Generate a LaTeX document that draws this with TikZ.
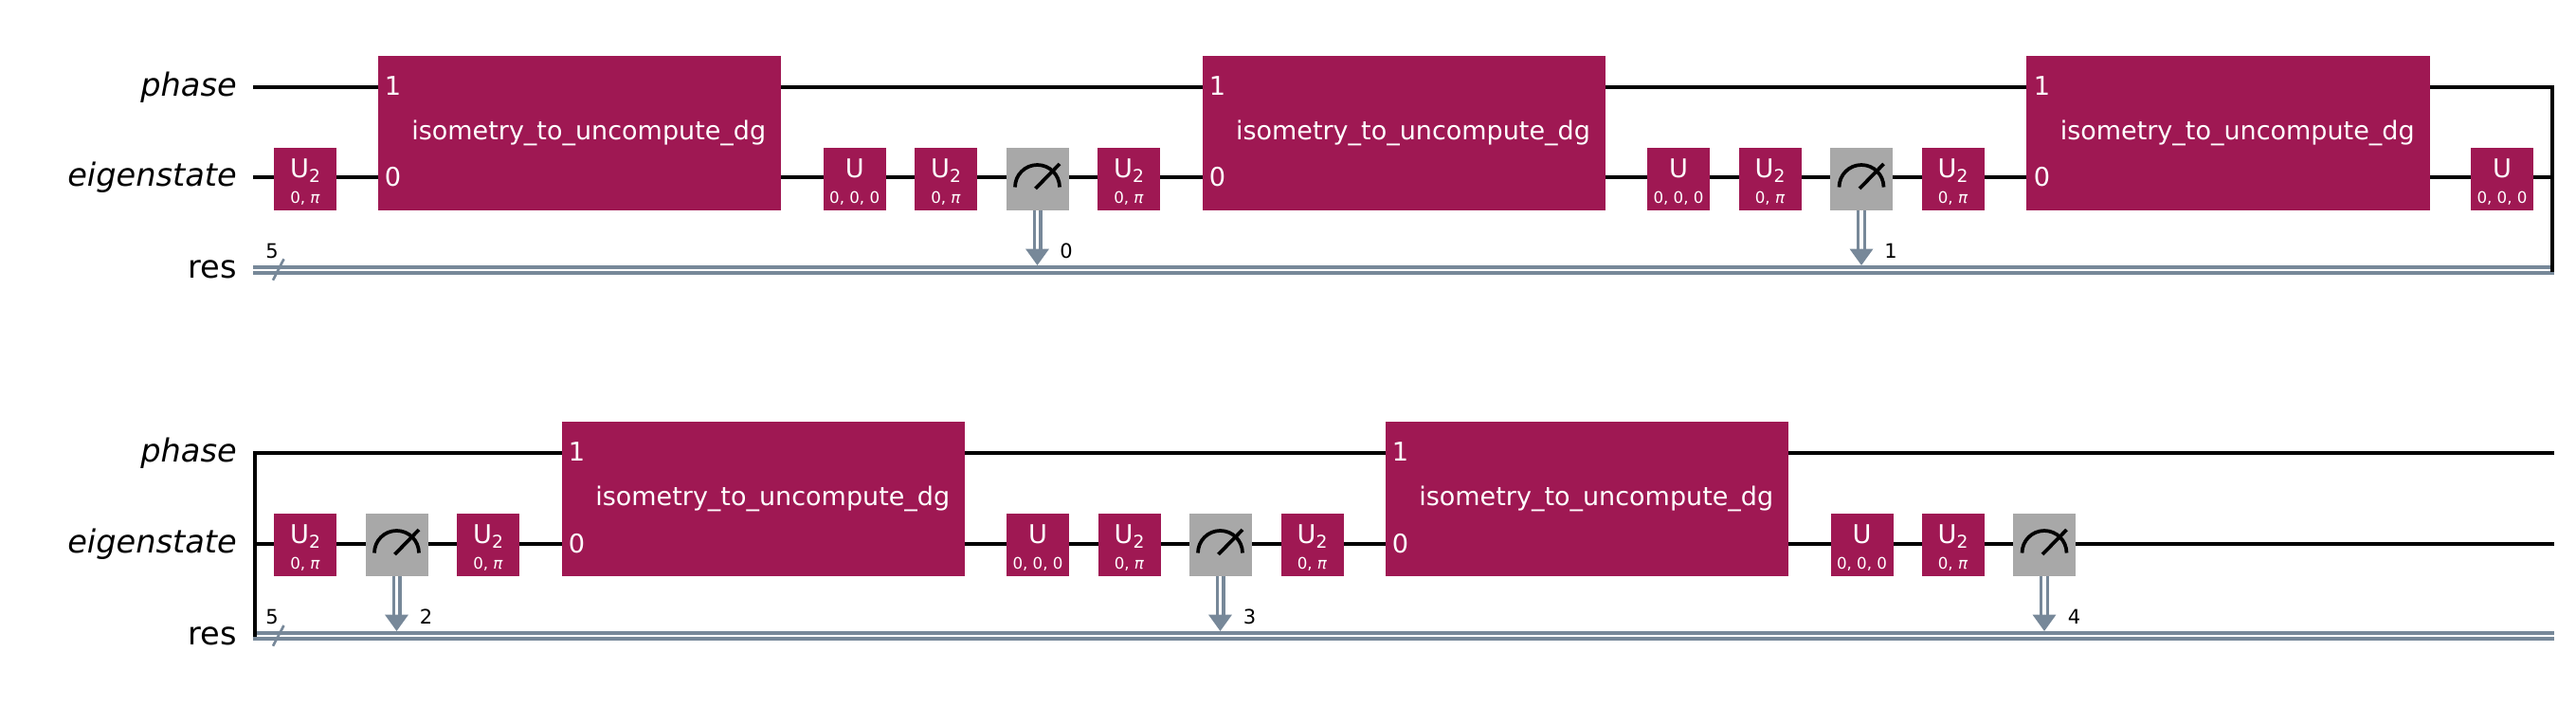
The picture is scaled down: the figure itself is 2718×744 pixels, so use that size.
\documentclass[tikz,border=0pt]{standalone}
\usepackage{fontspec}
\usepackage{tikz}
\usetikzlibrary{arrows.meta}
\setmainfont{DejaVu Sans}
\definecolor{gatered}{RGB}{159, 24, 83}
\definecolor{metergray}{RGB}{168, 168, 168}
\definecolor{busblue}{RGB}{119, 136, 153}

\newcommand{\gatetext}[2]{\rule{0pt}{19.25pt}#1\\{\fontsize{12.5}{12.5}\selectfont\rule[-1.5pt]{0pt}{1.5pt}#2}}
\newcommand{\sub}[1]{\raisebox{-3.75pt}{\fontsize{14}{14}\selectfont #1}}
\newcommand{\pii}{\textit{π}}
\newcommand{\isoname}{\hspace*{14.5pt}\raisebox{-0.8pt}{isometry\_to\_uncompute\_dg}}
\newcommand{\meter}[1]{%
\draw [meterline] (#1.center) +(-23.5,8.5) arc [start angle=180, end angle=360, radius=23.5];
\draw [meterline] (#1.center) +(-2,10) -- +(23.5,-16);}

\tikzset{
  wire/.style={line width=2.8pt},
  bus/.style={color=busblue, line width=3pt, double=white, double distance=1.3pt},
  cbit/.style={color=busblue, line width=2.5pt, double=white, double distance=2.5pt, -{Triangle[length=13pt,width=18pt]}},
  slash/.style={color=busblue, line width=2pt},
  meterline/.style={line width=2.8pt},
  gate/.style={fill=gatered, text=white, inner sep=0pt, minimum width=49.5pt, minimum height=49.5pt, align=center, font=\fontsize{20.4}{20.25}\selectfont},
  meas/.style={fill=metergray, inner sep=0pt, minimum width=49.5pt, minimum height=49.5pt},
  bigbox/.style={fill=gatered, text=white, inner sep=0pt, minimum width=319pt, minimum height=122.25pt, font=\fontsize{20.25}{20.25}\selectfont},
  port/.style={text=white, inner sep=0pt, anchor=base west, font=\fontsize{20.4}{20.25}\selectfont},
  wirename/.style={inner sep=0pt, anchor=base east, font=\fontsize{25.2}{25.2}\selectfont},
  index/.style={inner sep=0pt, font=\fontsize{15.75}{15.75}\selectfont}
}

\begin{document}
\begin{tikzpicture}[x=0.75pt,y=0.75pt,yscale=-1,xscale=1]
\useasboundingbox (0,0) rectangle (2718,744);

%Wire ends, upper row
\coordinate (phaseL) at (267,91.7);
\coordinate (phaseR) at (2695,91.7);
\coordinate (eigenL) at (267,187.3);
\coordinate (eigenR) at (2695,187.3);
\coordinate (resL) at (267,285);
\coordinate (resR) at (2695,285);
\coordinate (resTop) at (267,280);
%Wire ends, lower row
\coordinate (phaseLL) at (267,478);
\coordinate (phaseRR) at (2695,478);
\coordinate (eigenLL) at (267,573.7);
\coordinate (eigenRR) at (2695,573.7);
\coordinate (resLL) at (267,671);
\coordinate (resRR) at (2695,671);
\coordinate (resTopp) at (267,666);
%Line bends
\coordinate (bendR) at (2693.3,91.7);
\coordinate (bendRb) at (2693.3,286.7);
\coordinate (bendL) at (269,478);
\coordinate (bendLb) at (269,672);
%Slash ends
\coordinate (slashA) at (288,295.7);
\coordinate (slashB) at (299.5,273.3);
\coordinate (slashC) at (288,681.7);
\coordinate (slashD) at (299.5,660);

%Straight Lines
\draw [bus] (resL) -- (resR);
\draw [bus] (resLL) -- (resRR);
\draw [slash] (slashA) -- (slashB);
\draw [slash] (slashC) -- (slashD);
\draw [wire] (phaseL) -- (phaseR);
\draw [wire] (eigenL) -- (eigenR);
\draw [wire] (phaseLL) -- (phaseRR);
\draw [wire] (eigenLL) -- (eigenRR);
\draw [wire] (bendR) -- (bendRb);
\draw [wire] (bendL) -- (bendLb);

%Upper row
\node [gate] (ua) at (322,189) {\gatetext{U\sub{2}}{0, \pii}};
\node [bigbox] (isoa) at (611.6,140.5) {\isoname};
\node [gate] (ub) at (901.7,189) {\gatetext{U}{0, 0, 0}};
\node [gate] (uc) at (998,189) {\gatetext{U\sub{2}}{0, \pii}};
\node [meas] (ma) at (1094.5,189) {};
\node [gate] (ud) at (1191,189) {\gatetext{U\sub{2}}{0, \pii}};
\node [bigbox] (isob) at (1481.3,140.5) {\isoname};
\node [gate] (ue) at (1771,189) {\gatetext{U}{0, 0, 0}};
\node [gate] (uf) at (1867.5,189) {\gatetext{U\sub{2}}{0, \pii}};
\node [meas] (mb) at (1964,189) {};
\node [gate] (ug) at (2060.5,189) {\gatetext{U\sub{2}}{0, \pii}};
\node [bigbox] (isoc) at (2351,140.5) {\isoname};
\node [gate] (uh) at (2640,189) {\gatetext{U}{0, 0, 0}};

%Lower row
\node [gate] (uk) at (322,575) {\gatetext{U\sub{2}}{0, \pii}};
\node [meas] (mc) at (418.5,575) {};
\node [gate] (ul) at (515,575) {\gatetext{U\sub{2}}{0, \pii}};
\node [bigbox] (isod) at (805.6,526.8) {\isoname};
\node [gate] (um) at (1095,575) {\gatetext{U}{0, 0, 0}};
\node [gate] (un) at (1191.5,575) {\gatetext{U\sub{2}}{0, \pii}};
\node [meas] (md) at (1287.5,575) {};
\node [gate] (uo) at (1384.5,575) {\gatetext{U\sub{2}}{0, \pii}};
\node [bigbox] (isoe) at (1674.6,526.8) {\isoname};
\node [gate] (up) at (1964.5,575) {\gatetext{U}{0, 0, 0}};
\node [gate] (uq) at (2060.5,575) {\gatetext{U\sub{2}}{0, \pii}};
\node [meas] (me) at (2157,575) {};

%Meters
\meter{ma}
\meter{mb}
\meter{mc}
\meter{md}
\meter{me}

%Measure Arrows
\draw [cbit] (ma.south) -- (ma.south |- resTop);
\draw [cbit] (mb.south) -- (mb.south |- resTop);
\draw [cbit] (mc.south) -- (mc.south |- resTopp);
\draw [cbit] (md.south) -- (md.south |- resTopp);
\draw [cbit] (me.south) -- (me.south |- resTopp);

% Text Node
\node [wirename] (pa) at (250,101) {\textit{phase}};
\node [wirename] (ea) at (250,196.7) {\textit{eigenstate}};
\node [wirename] (ra) at (250,293.5) {res};
\node [wirename] (pb) at (250,487.2) {\textit{phase}};
\node [wirename] (eb) at (250,583) {\textit{eigenstate}};
\node [wirename] (rb) at (250,680) {res};
% Text Node
\node [port] (pa1) at (405.5,100) {1};
\node [port] (pa0) at (405.5,196.7) {0};
\node [port] (pb1) at (1275.5,100) {1};
\node [port] (pb0) at (1275.5,196.7) {0};
\node [port] (pc1) at (2145.5,100) {1};
\node [port] (pc0) at (2145.5,196.7) {0};
\node [port] (pd1) at (599.5,486.3) {1};
\node [port] (pd0) at (599.5,583) {0};
\node [port] (pe1) at (1468.5,486.3) {1};
\node [port] (pe0) at (1468.5,583) {0};
% Text Node
\node [index] (na) at (287,265) {5};
\node [index] (nb) at (287,651) {5};
\node [index] (ia) at (1125,265) {0};
\node [index] (ib) at (1995,265) {1};
\node [index] (ic) at (449.5,651) {2};
\node [index] (id) at (1318.5,651) {3};
\node [index] (ie) at (2188.5,651) {4};

\end{tikzpicture}
\end{document}
